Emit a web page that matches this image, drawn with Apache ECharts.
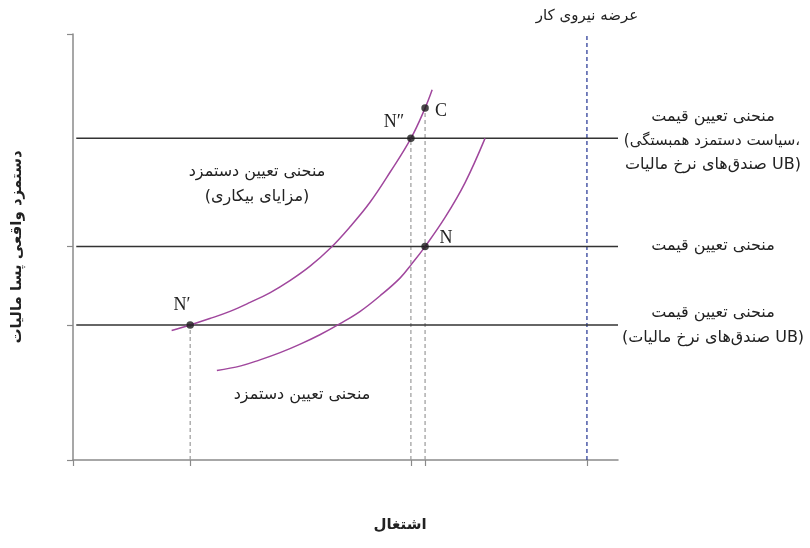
<!DOCTYPE html>
<html>
<head>
<meta charset="utf-8">
<script src="https://cdn.jsdelivr.net/npm/echarts@6/dist/echarts.min.js"></script>
<style>
  html, body { margin: 0; padding: 0; background: #fff; }
  #chart { width: 810px; height: 548px; }
</style>
</head>
<body>
<div id="chart"></div>
<script>
// ---- data (axis units: employment 0..100, real wage 0..100) ----
const wageBenefitX = [18.1, 21.5, 25.1, 28.8, 32.5, 36.2, 39.8, 43.5, 47.2, 50.8, 54.5, 58.2, 62.0, 64.6, 65.9];
const wageBenefitY = [30.4, 31.7, 33.2, 34.9, 37.0, 39.3, 42.1, 45.5, 49.7, 54.7, 60.5, 67.6, 75.5, 82.6, 86.9];
const wageBaseX = [26.4, 30.8, 34.3, 38.0, 41.7, 45.3, 49.0, 52.7, 56.3, 60.0, 62.2, 64.6, 68.3, 71.9, 75.6];
const wageBaseY = [21.0, 22.1, 23.5, 25.2, 27.2, 29.4, 32.0, 34.9, 38.5, 42.7, 46.1, 50.1, 57.0, 65.0, 75.5];
const priceLevels = [75.5, 50.1, 31.7];            // high (solidarity+UB), base, UB taxes
const priceLineStart = 0.6, priceLineEnd = 100;
const pointNames = ['N″', 'C', 'N', 'N′'];
const pointX = [62.0, 64.6, 64.6, 21.5];
const pointY = [75.5, 82.6, 50.1, 31.7];
const laborSupplyX = 94.3;
const laborSupplyTop = 100;
const xTicks = [0, 21.5, 62.0, 64.6, 94.3];
const yTicks = [0, 31.7, 50.1, 100];

const zip = (xs, ys) => xs.map((x, i) => [x, ys[i]]);

const chart = echarts.init(document.getElementById('chart'), null, { renderer: 'canvas' });

const fa = 'DejaVu Sans, Noto Sans, sans-serif';
const serif = 'Liberation Serif, DejaVu Serif, serif';
const axisGrey = '#8a8a8a';
const purple = '#a0479d';

const series = [];
priceLevels.forEach((lv) => {
  series.push({
    type: 'line', silent: true, symbol: 'none', z: 2,
    lineStyle: { color: '#333', width: 1.5 },
    data: [[priceLineStart, lv], [priceLineEnd, lv]]
  });
});
// vertical dashed guides from the points
pointNames.forEach((n, i) => {
  if (n === 'N') return;
  series.push({
    type: 'line', silent: true, symbol: 'none', z: 1,
    lineStyle: { color: '#9a9a9a', width: 1.2, type: [4, 3] },
    data: [[pointX[i], 0], [pointX[i], pointY[i]]]
  });
});
series.push({
  type: 'line', silent: true, symbol: 'none', z: 1,
  lineStyle: { color: '#2f3f9a', width: 1.3, type: [4, 3] },
  data: [[laborSupplyX, 0], [laborSupplyX, laborSupplyTop]]
});
[zip(wageBenefitX, wageBenefitY), zip(wageBaseX, wageBaseY)].forEach((d) => {
  series.push({
    type: 'line', silent: true, symbol: 'none', smooth: 0.4, z: 3,
    lineStyle: { color: purple, width: 1.5 },
    data: d
  });
});
series.push({
  type: 'scatter', silent: true, z: 5, symbolSize: 7.5,
  itemStyle: { color: '#1a1a1a' },
  data: zip(pointX, pointY)
});

const txt = (x, y, text, opts = {}) => ({
  type: 'text', x, y, silent: true,
  style: Object.assign({
    text, fill: '#222', font: '16px ' + fa, align: 'center', verticalAlign: 'middle'
  }, opts)
});

chart.setOption({
  animation: false,
  grid: { left: 73, right: 192, top: 34, bottom: 88 },
  xAxis: {
    type: 'value', min: 0, max: 100,
    axisLine: { show: true, lineStyle: { color: axisGrey, width: 1.5 } },
    axisTick: { show: true, length: 6, customValues: xTicks, lineStyle: { color: axisGrey, width: 1.2 } },
    axisLabel: { show: false },
    splitLine: { show: false }
  },
  yAxis: {
    type: 'value', min: 0, max: 100,
    name: 'دستمزد واقعی پسا مالیات', nameLocation: 'middle', nameGap: 48, nameRotate: 90,
    nameTextStyle: { fontFamily: fa, fontWeight: 'bold', fontSize: 15, color: '#222' },
    axisLine: { show: true, lineStyle: { color: axisGrey, width: 1.5 } },
    axisTick: { show: true, length: 6, customValues: yTicks, lineStyle: { color: axisGrey, width: 1.2 } },
    axisLabel: { show: false },
    splitLine: { show: false }
  },
  series,
  graphic: [
    txt(587, 16, 'عرضه نیروی کار', { font: '15px ' + fa }),
    txt(713, 117, 'منحنی تعیین قیمت'),
    txt(712, 141, '(سیاست دستمزد همبستگی،', { font: '15px ' + fa }),
    txt(713, 165, 'صندق‌های نرخ مالیات UB)'),
    txt(713, 246, 'منحنی تعیین قیمت'),
    txt(713, 313, 'منحنی تعیین قیمت'),
    txt(713, 338, '(صندق‌های نرخ مالیات UB)'),
    txt(257, 172, 'منحنی تعیین دستمزد'),
    txt(257, 197, '(مزایای بیکاری)'),
    txt(302, 395, 'منحنی تعیین دستمزد'),
    txt(400, 525, 'اشتغال', { font: 'bold 15px ' + fa }),
    txt(394, 122, 'N″', { font: '18px ' + serif }),
    txt(441, 111, 'C', { font: '18px ' + serif }),
    txt(446, 238, 'N', { font: '18px ' + serif }),
    txt(182, 305, 'N′', { font: '18px ' + serif })
  ]
});
</script>
</body>
</html>
